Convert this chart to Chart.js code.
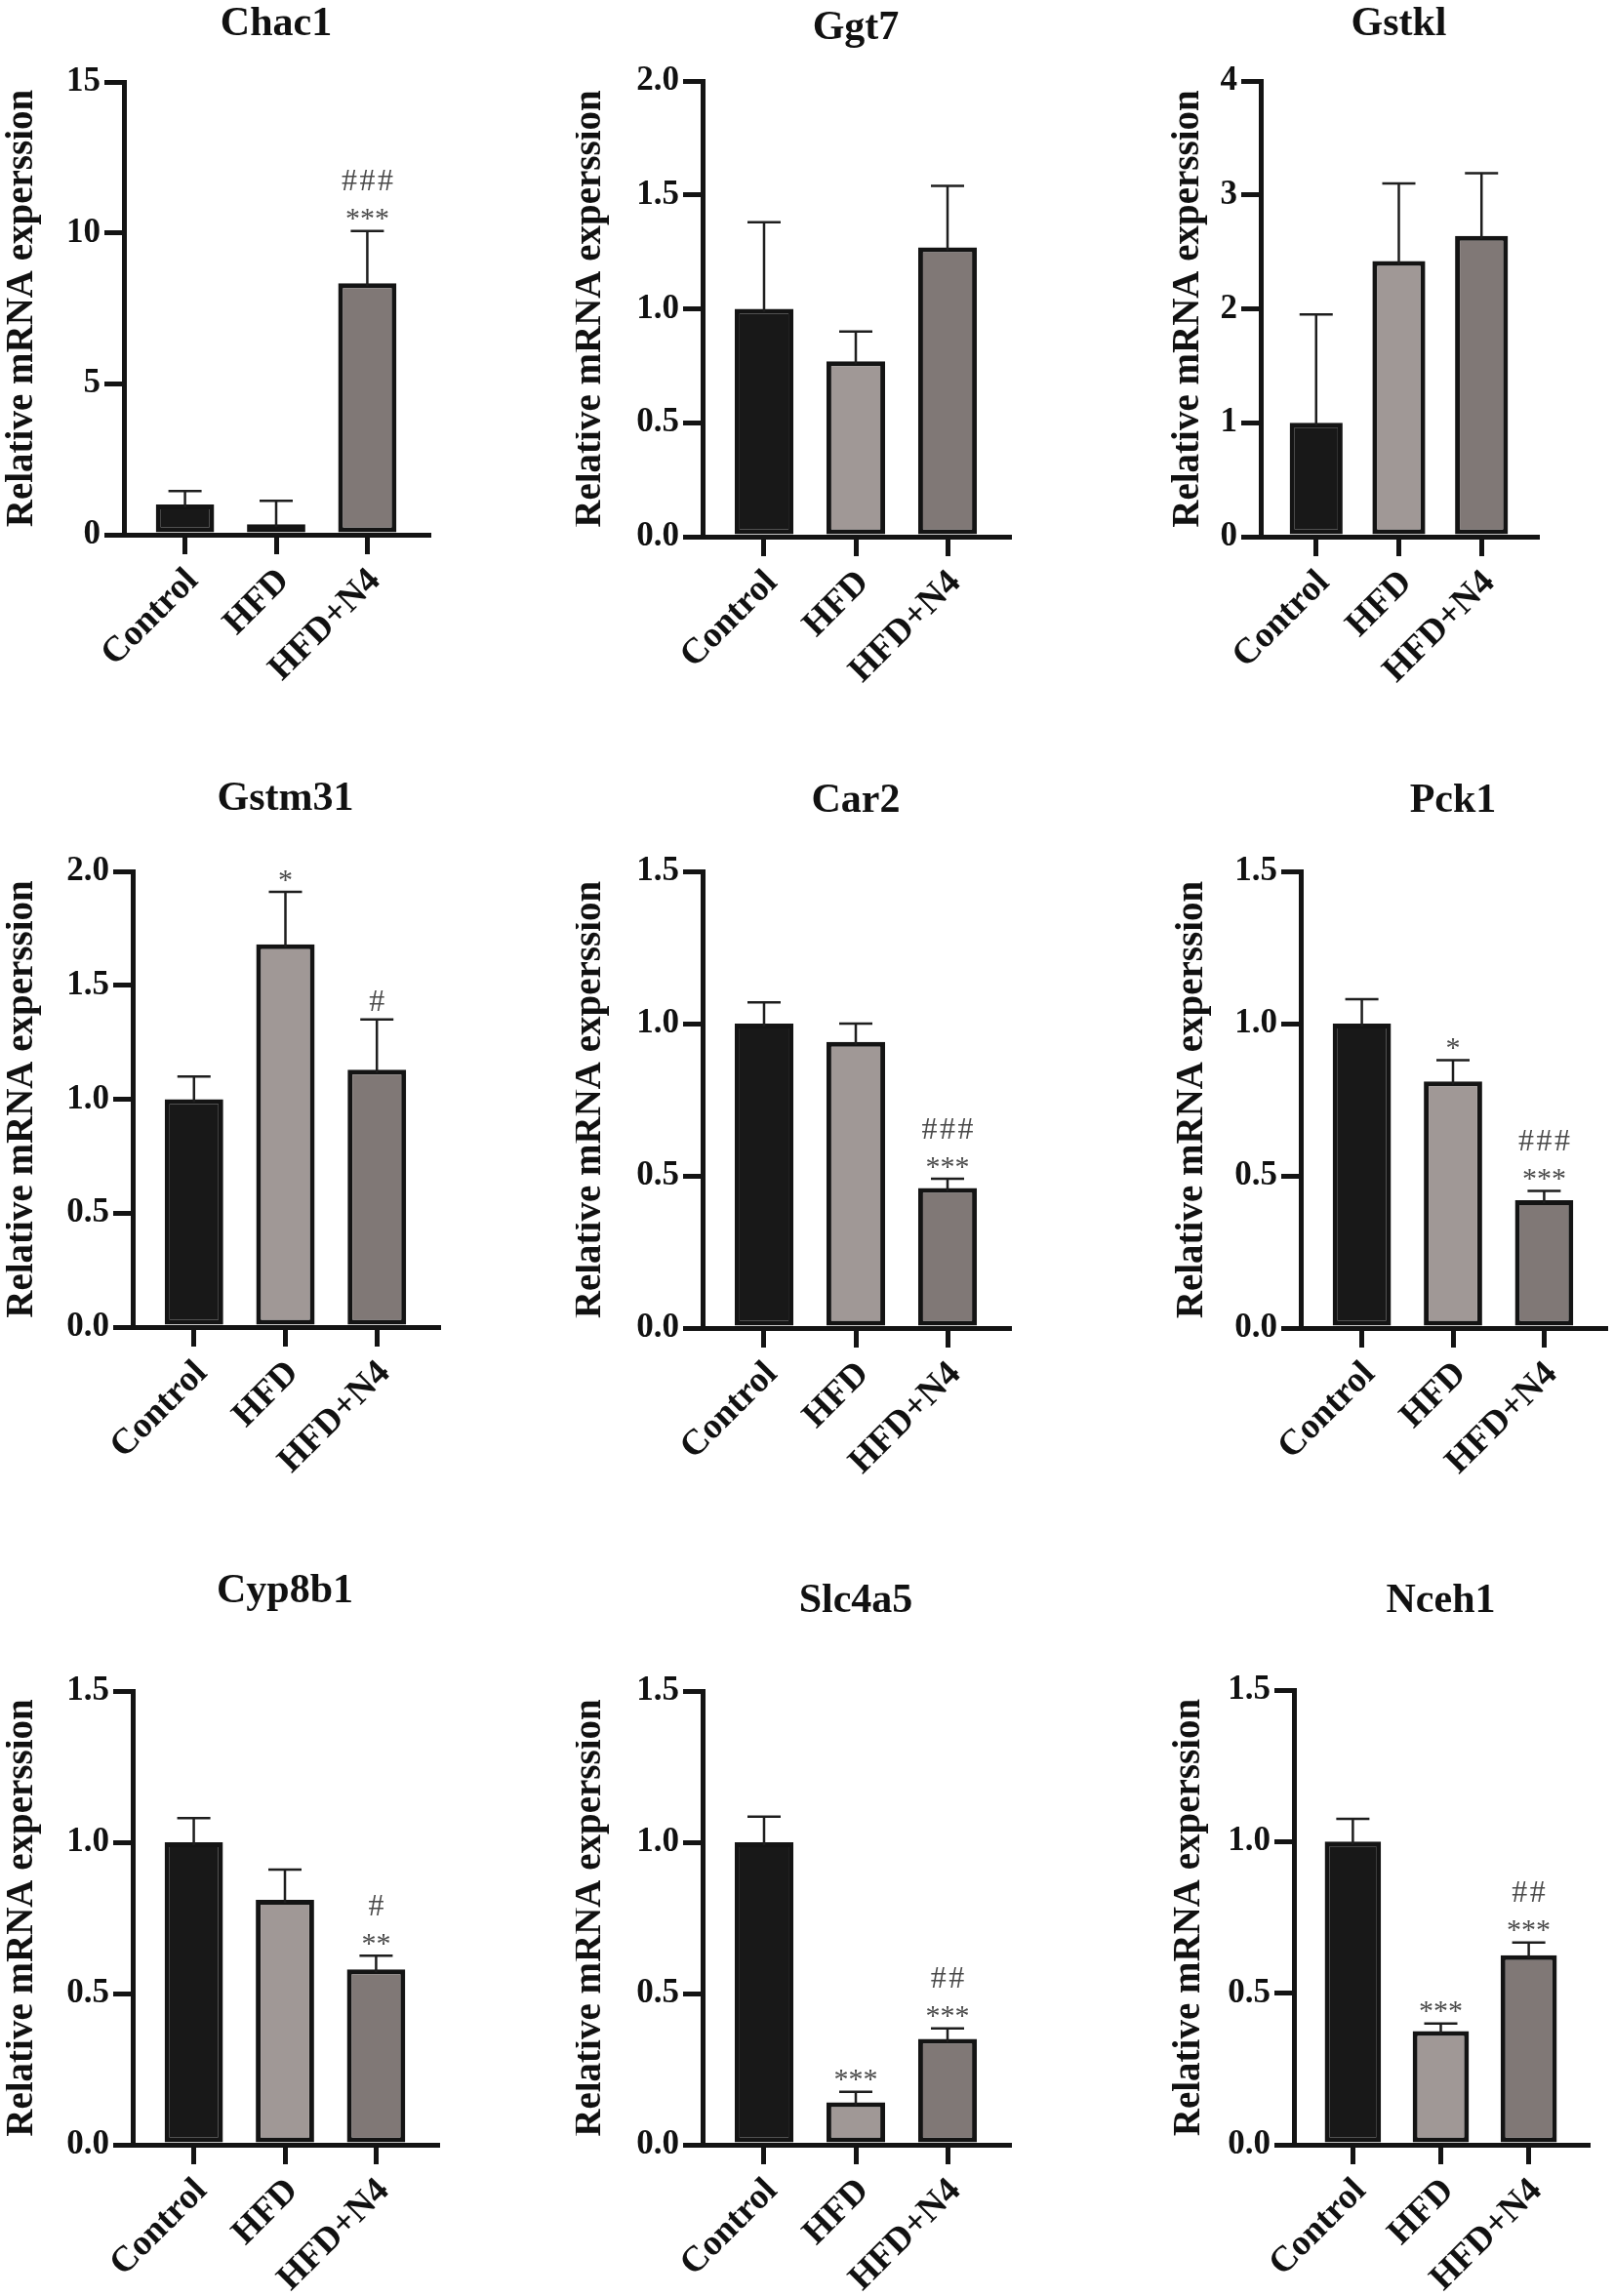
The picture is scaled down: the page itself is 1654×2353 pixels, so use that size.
<!DOCTYPE html>
<html>
<head>
<meta charset="utf-8">
<script src="https://cdn.jsdelivr.net/npm/chart.js@4.4.1/dist/chart.umd.min.js"></script>
<style>
    html, body { margin: 0; padding: 0; background: #fff; }
    #page { position: relative; width: 1654px; height: 2353px; overflow: hidden; background: #fff; }
    #page canvas { position: absolute; }
</style>
</head>
<body>
<div id="page"></div>
<script>
// Data
const genes = ['Chac1', 'Ggt7', 'Gstkl', 'Gstm31', 'Car2', 'Pck1', 'Cyp8b1', 'Slc4a5', 'Nceh1'];
const groups = ['Control', 'HFD', 'HFD+N4'];
const yTitle = 'Relative mRNA experssion';

const yTickLabels = [
    ['0', '5', '10', '15'],
    ['0.0', '0.5', '1.0', '1.5', '2.0'],
    ['0', '1', '2', '3', '4'],
    ['0.0', '0.5', '1.0', '1.5', '2.0'],
    ['0.0', '0.5', '1.0', '1.5'],
    ['0.0', '0.5', '1.0', '1.5'],
    ['0.0', '0.5', '1.0', '1.5'],
    ['0.0', '0.5', '1.0', '1.5'],
    ['0.0', '0.5', '1.0', '1.5']
];

// mean per group (Control, HFD, HFD+N4)
const means = [
    [1.00, 0.35, 8.33],
    [1.00, 0.77, 1.27],
    [1.00, 2.42, 2.64],
    [1.00, 1.68, 1.13],
    [1.00, 0.94, 0.46],
    [1.00, 0.81, 0.42],
    [1.00, 0.81, 0.58],
    [1.00, 0.14, 0.35],
    [1.00, 0.375, 0.625]
];

// upper error (SD) per group
const sds = [
    [0.45, 0.77, 1.73],
    [0.38, 0.13, 0.27],
    [0.95, 0.68, 0.55],
    [0.10, 0.23, 0.22],
    [0.07, 0.06, 0.03],
    [0.08, 0.07, 0.03],
    [0.08, 0.10, 0.045],
    [0.085, 0.035, 0.035],
    [0.075, 0.025, 0.042]
];

// significance vs Control (*) and vs HFD (#)
const stars = [
    ['', '', '***'], ['', '', ''], ['', '', ''],
    ['', '*', ''], ['', '', '***'], ['', '*', '***'],
    ['', '', '**'], ['', '***', '***'], ['', '***', '***']
];
const hashes = [
    ['', '', '###'], ['', '', ''], ['', '', ''],
    ['', '', '#'], ['', '', '###'], ['', '', '###'],
    ['', '', '#'], ['', '', '##'], ['', '', '##']
];

const barColors = ['#181818', '#a09896', '#807876'];

// where each panel's axes sit on the page (left axis x, right end, top tick y, zero y)
const frames = [
    { L: 127, R: 439, T: 84, B: 548, titleY: 25, labelX: 23 },
    { L: 720, R: 1034, T: 83, B: 550, titleY: 29, labelX: 605 },
    { L: 1292, R: 1575, T: 83, B: 550, titleY: 25, labelX: 1218 },
    { L: 136, R: 449, T: 893, B: 1360, titleY: 819, labelX: 23 },
    { L: 720, R: 1034, T: 893, B: 1361, titleY: 821, labelX: 605 },
    { L: 1333, R: 1645, T: 893, B: 1361, titleY: 821, labelX: 1222 },
    { L: 136, R: 448, T: 1733, B: 2198, titleY: 1631, labelX: 23 },
    { L: 720, R: 1034, T: 1733, B: 2198, titleY: 1641, labelX: 605 },
    { L: 1326, R: 1627, T: 1732, B: 2198, titleY: 1641, labelX: 1219 }
];

const INK = '#141414';
const FONT = '"Liberation Serif", "Times New Roman", serif';
const PAD_L = 130, PAD_T = 140, PAD_R = 8, PAD_B = 190, Y_W = 70;

function drawMarks(ctx, text, cx, cy, size, gap) {
    ctx.font = `${size}px ${FONT}`;
    const m = ctx.measureText(text[0]);
    const off = (m.actualBoundingBoxAscent - m.actualBoundingBoxDescent) / 2;
    const n = text.length;
    for (let k = 0; k < n; k++) {
        ctx.fillText(text[k], cx + (k - (n - 1) / 2) * gap, cy + off);
    }
}

const decor = {
    id: 'decor',
    afterDatasetsDraw(chart) {
        const i = chart.options.panelIndex;
        const ctx = chart.ctx;
        const y = chart.scales.y;
        const bars = chart.getDatasetMeta(0).data;
        ctx.save();
        bars.forEach((bar, k) => {
            const top = y.getPixelForValue(means[i][k] + sds[i][k]);
            ctx.strokeStyle = '#1e1e1e';
            ctx.lineWidth = 2.5;
            ctx.beginPath();
            ctx.moveTo(bar.x, bar.y + 3);
            ctx.lineTo(bar.x, top);
            ctx.moveTo(bar.x - 17, top);
            ctx.lineTo(bar.x + 17, top);
            ctx.stroke();

            ctx.fillStyle = '#4a4a4a';
            ctx.textAlign = 'center';
            ctx.textBaseline = 'alphabetic';
            const s = stars[i][k], h = hashes[i][k];
            if (s) drawMarks(ctx, s, bar.x, top - 17, 30, 15);
            if (h) drawMarks(ctx, h, bar.x, s ? top - 52 : top - 19, 32, 18.5);
        });
        ctx.restore();
    },
    afterDraw(chart) {
        const i = chart.options.panelIndex;
        const f = frames[i];
        const a = chart.chartArea;
        const ctx = chart.ctx;
        const ox = f.L - PAD_L, oy = f.T - PAD_T;
        ctx.save();
        ctx.fillStyle = '#111';
        ctx.textAlign = 'center';
        ctx.textBaseline = 'middle';
        ctx.font = `bold 42px ${FONT}`;
        ctx.fillText(genes[i], (a.left + a.right) / 2, f.titleY - oy);
        ctx.translate(f.labelX - ox, (a.top + a.bottom) / 2);
        ctx.rotate(-Math.PI / 2);
        ctx.font = `bold 39px ${FONT}`;
        ctx.fillText(yTitle, 0, 0);
        ctx.restore();
    }
};

const page = document.getElementById('page');

function makePanel(i) {
    const f = frames[i];
    const w = f.R - f.L + PAD_L + PAD_R;
    const h = f.B - f.T + PAD_T + PAD_B;
    const cv = document.createElement('canvas');
    cv.width = w;
    cv.height = h;
    cv.style.left = (f.L - PAD_L) + 'px';
    cv.style.top = (f.T - PAD_T) + 'px';
    cv.style.width = w + 'px';
    cv.style.height = h + 'px';
    page.appendChild(cv);

    const yVals = yTickLabels[i].map(Number);
    const axisGrid = { drawOnChartArea: false, drawTicks: true, tickLength: 20, lineWidth: 5, color: INK, offset: false };
    const axisBorder = { display: true, width: 5, color: INK };

    new Chart(cv, {
        type: 'bar',
        data: {
            datasets: [{
                data: means[i].map((m, k) => ({ x: k, y: m })),
                backgroundColor: barColors,
                borderColor: INK,
                borderWidth: 5,
                borderSkipped: false,
                categoryPercentage: 1,
                barPercentage: 0.64
            }]
        },
        options: {
            panelIndex: i,
            responsive: false,
            animation: false,
            devicePixelRatio: 1,
            layout: { padding: { left: PAD_L - Y_W, top: PAD_T, right: PAD_R, bottom: 0 } },
            plugins: { legend: { display: false }, tooltip: { enabled: false } },
            scales: {
                x: {
                    type: 'linear',
                    offset: false,
                    min: -0.67,
                    max: 2.67,
                    afterBuildTicks: s => { s.ticks = groups.map((g, k) => ({ value: k })); },
                    afterFit: s => { s.height = PAD_B; },
                    ticks: {
                        callback: v => groups[v],
                        minRotation: 45,
                        maxRotation: 45,
                        autoSkip: false,
                        padding: 6,
                        labelOffset: 8,
                        color: '#111',
                        font: { family: FONT, weight: 'bold', size: 37 }
                    },
                    grid: axisGrid,
                    border: axisBorder
                },
                y: {
                    min: 0,
                    max: yVals[yVals.length - 1],
                    afterBuildTicks: s => { s.ticks = yVals.map(v => ({ value: v })); },
                    afterFit: s => { s.width = Y_W; },
                    ticks: {
                        callback: (v, idx) => yTickLabels[i][idx],
                        padding: 4,
                        color: '#111',
                        font: { family: FONT, weight: 'bold', size: 35 }
                    },
                    grid: axisGrid,
                    border: axisBorder
                }
            }
        },
        plugins: [decor]
    });
}

genes.forEach((g, i) => makePanel(i));
</script>
</body>
</html>
